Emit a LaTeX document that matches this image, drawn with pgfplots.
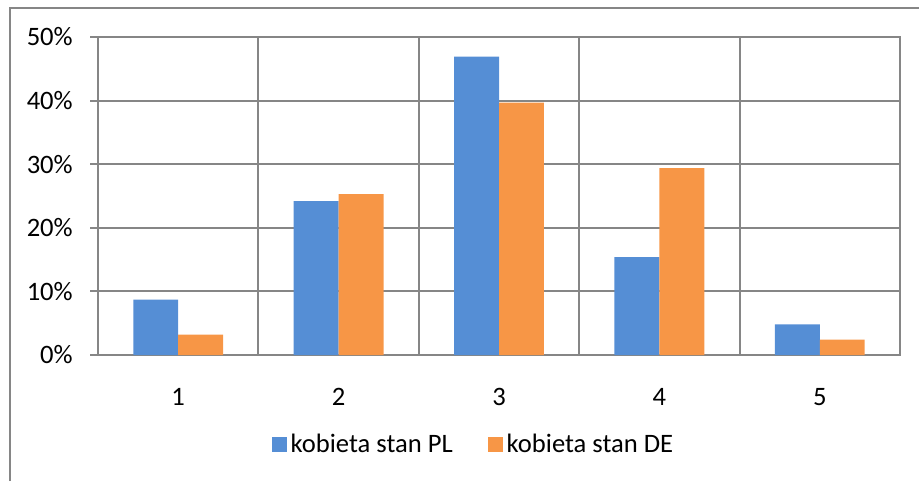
\documentclass[border=0pt]{standalone}
\usepackage{pgfplots}
\pgfplotsset{compat=1.18}
\usepackage{fontspec}
\setmainfont{Carlito}
\definecolor{plblue}{RGB}{85,142,213}
\definecolor{deorange}{RGB}{247,150,70}
\definecolor{gridgray}{RGB}{134,134,134}

\begin{document}
\fontsize{13.3}{16}\selectfont
\begin{tikzpicture}
  \useasboundingbox (0,0) rectangle (459.5pt,-240.5pt);
  % outer chart frame (only left and top are visible)
  \draw[gridgray, line width=1pt] (5pt,-240.5pt) -- (5pt,-4pt) -- (460pt,-4pt);
  \begin{axis}[
      at={(49pt,-177.5pt)}, anchor=south west,
      width=401pt, height=159pt, scale only axis,
      xmin=0.5, xmax=5.5, ymin=0, ymax=50,
      xtick={1,2,3,4,5},
      major x tick style={draw=none},
      extra x ticks={0.5,1.5,2.5,3.5,4.5,5.5},
      extra x tick labels={},
      extra x tick style={grid=major, major tick length=4pt, tick align=outside,
        tick style={draw=gridgray, line width=1pt}},
      ytick={0,10,20,30,40,50},
      yticklabel={\pgfmathprintnumber{\tick}\%},
      ymajorgrids,
      tick align=outside, major tick length=4pt,
      xtick pos=bottom, ytick pos=left,
      grid style={draw=gridgray, line width=1pt},
      tick style={draw=gridgray, line width=1pt},
      axis line style={draw=gridgray, line width=1pt},
      /pgf/number format/assume math mode=true,
      ticklabel style={font=\fontsize{13.3}{16}\selectfont},
      yticklabel style={xshift=-4pt},
      xticklabel style={yshift=-8pt},
      bar width=0.28,
      legend columns=2,
      legend style={at={(0.4694,-0.283)}, anchor=center, draw=none,
        font=\fontsize{13.3}{16}\selectfont,
        /tikz/every even column/.append style={column sep=15.5pt}},
      legend image code/.code={\fill[#1] (0pt,-3.75pt) rectangle (7.5pt,3.75pt);},
    ]
    \addplot[ybar, bar shift=-0.14, fill=plblue, draw=none] coordinates {
      (1,8.7) (2,24.2) (3,46.9) (4,15.4) (5,4.8)
    };
    \addlegendentry{kobieta stan PL}
    \addplot[ybar, bar shift=0.14, fill=deorange, draw=none] coordinates {
      (1,3.2) (2,25.3) (3,39.7) (4,29.4) (5,2.4)
    };
    \addlegendentry{kobieta stan DE}
  \end{axis}
\end{tikzpicture}
\end{document}
